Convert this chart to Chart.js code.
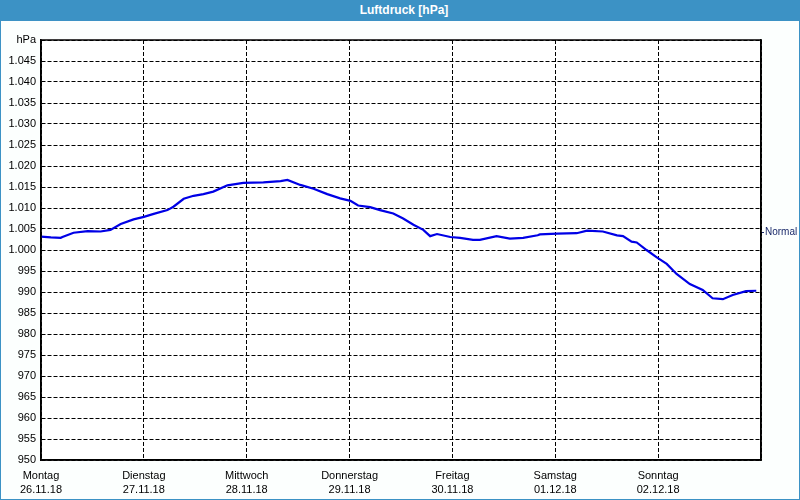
<!DOCTYPE html>
<html>
<head>
<meta charset="utf-8">
<script src="https://cdn.jsdelivr.net/npm/chart.js@4"></script>
<style>
    body { margin: 0; background: #fff; }
    #frame { width: 800px; height: 500px; box-sizing: border-box; position: relative; }
    #titlebar {
        height: 21px; background: #3c92c5; color: #fff;
        font: bold 12px "Liberation Sans", Arial, sans-serif;
        line-height: 21px; text-align: center; padding-left: 8px;
    }
    #body {
        width: 800px; height: 479px; box-sizing: border-box;
        border: 1px solid #3c92c5; border-top: none; background: #fcfffe;
    }
</style>
</head>
<body>
<div id="frame">
    <div id="titlebar">Luftdruck [hPa]</div>
    <div id="body"><canvas id="chart" width="798" height="478"></canvas></div>
</div>
<script>
// days of the week shown on the x axis
const dayNames = ['Montag', 'Dienstag', 'Mittwoch', 'Donnerstag', 'Freitag', 'Samstag', 'Sonntag'];
const dayDates = ['26.11.18', '27.11.18', '28.11.18', '29.11.18', '30.11.18', '01.12.18', '02.12.18'];

// hours since Monday 00:00
const hours = [0, 2.3, 4.6, 5, 7.6, 10.9, 13.9, 16.2, 18.6, 21.6, 24, 26.3, 29.5, 30.9, 33.3, 35.6,
    37.9, 40.2, 43.5, 47.2, 51.9, 55.9, 57.5, 60.5, 63.6, 66.8, 69.8, 72.2, 74, 76.8, 79.1, 82.2,
    84.5, 86.9, 89.2, 90.8, 92.4, 95.5, 97.8, 100.8, 102.4, 106.3, 109.4, 112.5, 115.9, 116.4,
    120.4, 125, 127.4, 131.1, 134.4, 135.8, 137.8, 139, 141.3, 143.6, 146, 148.3, 151.4, 154.4,
    156.7, 159.1, 161.4, 164.5, 166.9];

// pressure in hPa
const pressure = [1003.2, 1003.0, 1002.9, 1003.1, 1004.1, 1004.5, 1004.4, 1004.8, 1006.2, 1007.3,
    1007.9, 1008.6, 1009.5, 1010.3, 1012.2, 1012.9, 1013.3, 1013.9, 1015.4, 1016.0, 1016.1, 1016.4,
    1016.7, 1015.5, 1014.6, 1013.3, 1012.3, 1011.7, 1010.6, 1010.2, 1009.5, 1008.7, 1007.5, 1006.0,
    1004.8, 1003.3, 1003.8, 1003.1, 1002.9, 1002.4, 1002.4, 1003.3, 1002.7, 1002.9, 1003.5, 1003.7,
    1003.9, 1004.0, 1004.6, 1004.4, 1003.5, 1003.3, 1002.0, 1001.8, 1000.0, 998.3, 996.7, 994.3,
    991.9, 990.5, 988.5, 988.3, 989.3, 990.2, 990.3];

const yMin = 950;
const yMax = 1050;
const normalValue = 1004.2;

const font = { family: '"Liberation Sans", Arial, sans-serif', size: 11 };

// frame around the plot area
const boxPlugin = {
    id: 'box',
    afterDraw(chart) {
        let a = chart.chartArea;
        let ctx = chart.ctx;
        ctx.save();
        ctx.strokeStyle = '#000';
        ctx.lineWidth = 1.5;
        ctx.strokeRect(a.left, a.top, a.right - a.left, a.bottom - a.top);
        ctx.restore();
    }
};

const plotBg = {
    id: 'plotBg',
    beforeDraw(chart) {
        let a = chart.chartArea;
        chart.ctx.save();
        chart.ctx.fillStyle = '#fff';
        chart.ctx.fillRect(a.left, a.top, a.right - a.left, a.bottom - a.top);
        chart.ctx.restore();
    }
};

new Chart(document.getElementById('chart'), {
    type: 'line',
    data: {
        datasets: [{
            label: 'Luftdruck',
            data: hours.map((h, i) => ({ x: h, y: pressure[i] })),
            borderColor: '#0000e6',
            borderWidth: 2.2,
            pointRadius: 0,
            tension: 0,
            fill: false
        }]
    },
    plugins: [plotBg, boxPlugin],
    options: {
        responsive: false,
        animation: false,
        layout: { padding: { top: 19, left: 0, right: 0, bottom: 0 } },
        plugins: {
            legend: { display: false },
            tooltip: { enabled: false }
        },
        scales: {
            x: {
                type: 'linear',
                min: 0,
                max: 168,
                afterBuildTicks(scale) {
                    scale.ticks = dayNames.map((d, i) => ({ value: i * 24 })).concat([{ value: 168 }]);
                },
                afterFit(scale) { scale.height = 39; },
                grid: { color: '#000', lineWidth: 1, drawTicks: false },
                border: { display: true, color: '#000', width: 1.5, dash: [4, 2] },
                ticks: {
                    autoSkip: false,
                    maxRotation: 0,
                    padding: 9,
                    color: '#000',
                    font: { ...font, lineHeight: 1.25 },
                    callback(value) {
                        let i = Math.round(value / 24);
                        return i < dayNames.length ? [dayNames[i], dayDates[i]] : '';
                    }
                }
            },
            y: {
                type: 'linear',
                min: yMin,
                max: yMax,
                afterFit(scale) { scale.width = 40; },
                grid: { color: '#000', lineWidth: 1, drawTicks: false },
                border: { display: true, color: '#000', width: 1.5, dash: [4, 2] },
                ticks: {
                    stepSize: 5,
                    padding: 5,
                    color: '#000',
                    font: font,
                    callback(value) {
                        if (value === yMax) return 'hPa';
                        if (value >= 1000) return '1.' + String(value - 1000).padStart(3, '0');
                        return String(value);
                    }
                }
            },
            normal: {
                type: 'linear',
                position: 'right',
                min: yMin,
                max: yMax,
                afterBuildTicks(scale) { scale.ticks = [{ value: normalValue }]; },
                afterFit(scale) { scale.width = 38; },
                grid: { drawOnChartArea: false, drawTicks: true, tickLength: 3, color: '#1a2a6a' },
                border: { display: true, color: '#000', width: 1.5 },
                ticks: {
                    padding: 1,
                    color: '#1a2a6a',
                    font: { ...font, size: 10 },
                    callback() { return 'Normal'; }
                }
            }
        }
    }
});
</script>
</body>
</html>
